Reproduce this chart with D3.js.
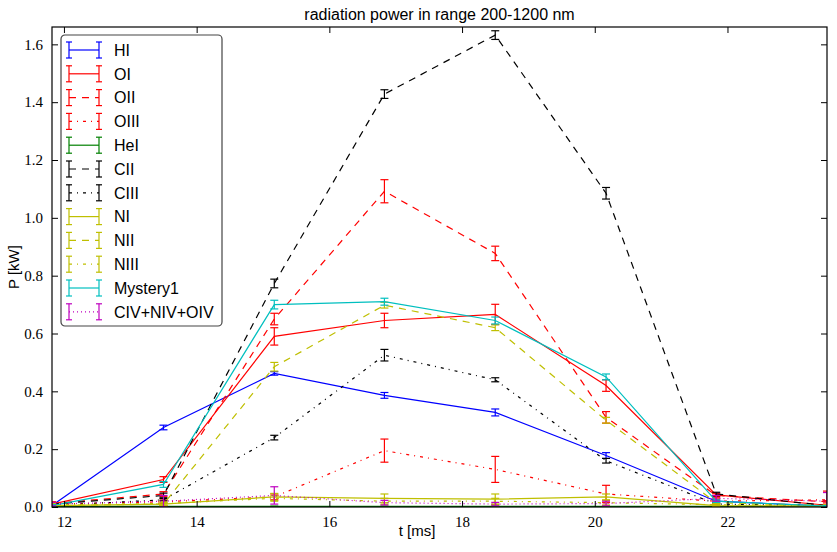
<!DOCTYPE html>
<html>
<head>
<meta charset="utf-8">
<script src="https://cdn.jsdelivr.net/npm/d3@7"></script>
<style>
  body { margin: 0; background: #fff; }
  svg { display: block; }
</style>
</head>
<body>
<div id="chart"></div>
<script>
// time points [ms]
var times = [11.82, 13.5, 15.17, 16.83, 18.5, 20.17, 21.83, 23.5];

// radiated power [kW] per line, with errors
var HI        = [0.005, 0.275, 0.462, 0.386, 0.327, 0.178, 0.020, 0.003];
var HI_err    = [0.003, 0.008, 0.006, 0.010, 0.012, 0.010, 0.004, 0.002];
var OI        = [0.010, 0.095, 0.590, 0.645, 0.666, 0.420, 0.042, 0.006];
var OI_err    = [0.004, 0.010, 0.030, 0.025, 0.035, 0.020, 0.006, 0.002];
var OII       = [0.012, 0.045, 0.650, 1.092, 0.877, 0.310, 0.040, 0.018];
var OII_err   = [0.004, 0.008, 0.020, 0.040, 0.025, 0.020, 0.006, 0.004];
var OIII      = [0.010, 0.018, 0.035, 0.195, 0.130, 0.045, 0.020, 0.025];
var OIII_err  = [0.008, 0.006, 0.010, 0.040, 0.045, 0.030, 0.008, 0.030];
var HeI       = [0.002, 0.002, 0.002, 0.002, 0.002, 0.002, 0.002, 0.002];
var HeI_err   = [0.001, 0.001, 0.001, 0.001, 0.001, 0.001, 0.001, 0.001];
var CII       = [0.010, 0.040, 0.773, 1.428, 1.632, 1.085, 0.045, 0.005];
var CII_err   = [0.003, 0.008, 0.015, 0.015, 0.015, 0.020, 0.006, 0.002];
var CIII      = [0.005, 0.025, 0.240, 0.525, 0.440, 0.160, 0.010, 0.005];
var CIII_err  = [0.002, 0.004, 0.008, 0.020, 0.007, 0.008, 0.003, 0.002];
var NI        = [0.005, 0.010, 0.035, 0.030, 0.027, 0.035, 0.005, 0.003];
var NI_err    = [0.003, 0.005, 0.012, 0.015, 0.018, 0.010, 0.003, 0.002];
var NII       = [0.005, 0.010, 0.485, 0.698, 0.620, 0.300, 0.015, 0.005];
var NII_err   = [0.003, 0.005, 0.015, 0.010, 0.010, 0.010, 0.004, 0.002];
var NIII      = [0.008, 0.012, 0.030, 0.020, 0.020, 0.015, 0.008, 0.005];
var NIII_err  = [0.004, 0.006, 0.010, 0.010, 0.010, 0.008, 0.004, 0.003];
var Mystery1     = [0.005, 0.078, 0.700, 0.710, 0.645, 0.450, 0.020, 0.003];
var Mystery1_err = [0.003, 0.010, 0.015, 0.012, 0.012, 0.010, 0.004, 0.002];
var CNO4      = [0.010, 0.020, 0.040, 0.015, 0.010, 0.012, 0.030, 0.020];
var CNO4_err  = [0.006, 0.020, 0.030, 0.008, 0.006, 0.008, 0.010, 0.030];

var names = ["HI", "OI", "OII", "OIII", "HeI", "CII", "CIII", "NI", "NII", "NIII", "Mystery1", "CIV+NIV+OIV"];
var xTicks = [12, 14, 16, 18, 20, 22];
var yTicks = [0, 0.2, 0.4, 0.6, 0.8, 1.0, 1.2, 1.4, 1.6];

var seriesVals = [HI, OI, OII, OIII, HeI, CII, CIII, NI, NII, NIII, Mystery1, CNO4];
var seriesErrs = [HI_err, OI_err, OII_err, OIII_err, HeI_err, CII_err, CIII_err, NI_err, NII_err, NIII_err, Mystery1_err, CNO4_err];
var colors = ["#0000ff", "#ff0000", "#ff0000", "#ff0000", "#008000", "#000000", "#000000",
              "#bfbf00", "#bfbf00", "#bfbf00", "#00bfbf", "#bf00bf"];
var styles = ["solid", "solid", "dashed", "dashdot", "solid", "dashed", "dashdot",
              "solid", "dashed", "dashdot", "solid", "dotted"];
var dashes = { solid: null, dashed: "7,6", dashdot: "3,5,1,5", dotted: "1,3" };

// Set the dimension of the chart
var W = 837, H = 552;
var margin = { top: 27, right: 10, bottom: 45, left: 52 };
var width = W - margin.left - margin.right;
var height = H - margin.top - margin.bottom;

var svg = d3.select("#chart").append("svg")
    .attr("width", W)
    .attr("height", H);

var g = svg.append("g")
    .attr("transform", "translate(" + margin.left + "," + margin.top + ")");

var x = d3.scaleLinear().domain([11.82, 23.5]).range([0, width]);
var y = d3.scaleLinear().domain([0, 1.66]).range([height, 0]);

// clip for data
g.append("clipPath").attr("id", "clip")
    .append("rect").attr("width", width).attr("height", height);

var plot = g.append("g").attr("clip-path", "url(#clip)");

var line = d3.line()
    .x(function (d) { return x(d.t); })
    .y(function (d) { return y(d.v); });

seriesVals.forEach(function (vals, k) {
    var data = times.map(function (t, i) { return { t: t, v: vals[i], e: seriesErrs[k][i] }; });
    var s = plot.append("g").attr("class", "series");
    s.append("path")
        .datum(data)
        .attr("d", line)
        .attr("fill", "none")
        .attr("stroke", colors[k])
        .attr("stroke-width", 1.2)
        .attr("stroke-dasharray", dashes[styles[k]]);
    // error bars
    var eb = s.selectAll(".eb").data(data).enter().append("g");
    eb.append("line")
        .attr("x1", function (d) { return x(d.t); })
        .attr("x2", function (d) { return x(d.t); })
        .attr("y1", function (d) { return y(d.v - d.e); })
        .attr("y2", function (d) { return y(d.v + d.e); });
    eb.append("line")
        .attr("x1", function (d) { return x(d.t) - 4; })
        .attr("x2", function (d) { return x(d.t) + 4; })
        .attr("y1", function (d) { return y(d.v - d.e); })
        .attr("y2", function (d) { return y(d.v - d.e); });
    eb.append("line")
        .attr("x1", function (d) { return x(d.t) - 4; })
        .attr("x2", function (d) { return x(d.t) + 4; })
        .attr("y1", function (d) { return y(d.v + d.e); })
        .attr("y2", function (d) { return y(d.v + d.e); });
    eb.selectAll("line").attr("stroke", colors[k]).attr("stroke-width", 1.2);
});

// axes, ticks inside on all four sides
var tickFont = "'Liberation Serif', 'DejaVu Serif', serif";
var xAxis = d3.axisBottom(x).tickValues(xTicks).tickSize(-6).tickPadding(9)
    .tickFormat(d3.format("d"));
var yAxis = d3.axisLeft(y).tickValues(yTicks).tickSize(-6).tickPadding(9)
    .tickFormat(d3.format(".1f"));

g.append("g").attr("transform", "translate(0," + height + ")").call(xAxis)
    .call(function (a) { a.select(".domain").remove(); })
    .selectAll("text").style("font-family", tickFont).style("font-size", "15px");
g.append("g").call(yAxis)
    .call(function (a) { a.select(".domain").remove(); })
    .selectAll("text").style("font-family", tickFont).style("font-size", "15px");
g.append("g").call(d3.axisTop(x).tickValues(xTicks).tickSize(-6).tickFormat(""))
    .call(function (a) { a.select(".domain").remove(); });
g.append("g").attr("transform", "translate(" + width + ",0)")
    .call(d3.axisRight(y).tickValues(yTicks).tickSize(-6).tickFormat(""))
    .call(function (a) { a.select(".domain").remove(); });
g.selectAll(".tick line").attr("stroke", "#000");
g.selectAll(".tick text").attr("fill", "#000");

g.append("rect")
    .attr("width", width).attr("height", height)
    .attr("fill", "none").attr("stroke", "#000").attr("stroke-width", 1.2);

// titles
var sans = "'Liberation Sans', Arial, sans-serif";
svg.append("text")
    .attr("x", margin.left + width / 2).attr("y", 20)
    .attr("text-anchor", "middle")
    .style("font-family", sans).style("font-size", "16px")
    .text("radiation power in range 200-1200 nm");
svg.append("text")
    .attr("x", 417).attr("y", 536)
    .attr("text-anchor", "middle")
    .style("font-family", sans).style("font-size", "15px")
    .text("t [ms]");
svg.append("text")
    .attr("transform", "translate(19," + (margin.top + height / 2) + ") rotate(-90)")
    .attr("text-anchor", "middle")
    .style("font-family", sans).style("font-size", "15px")
    .text("P [kW]");

// Handmade legend
var leg = g.append("g").attr("transform", "translate(9,8)");
leg.append("rect")
    .attr("width", 161).attr("height", 291).attr("rx", 4)
    .attr("fill", "#fff").attr("stroke", "#444").attr("stroke-width", 1.2);
names.forEach(function (name, k) {
    var yy = 15 + k * 23.8;
    var it = leg.append("g").attr("transform", "translate(0," + yy + ")");
    it.append("line").attr("x1", 8).attr("x2", 38).attr("y1", 0).attr("y2", 0)
        .attr("stroke-dasharray", dashes[styles[k]]);
    [8, 38].forEach(function (xx) {
        it.append("line").attr("x1", xx).attr("x2", xx).attr("y1", -8).attr("y2", 8);
        it.append("line").attr("x1", xx - 3).attr("x2", xx + 3).attr("y1", -8).attr("y2", -8);
        it.append("line").attr("x1", xx - 3).attr("x2", xx + 3).attr("y1", 8).attr("y2", 8);
    });
    it.selectAll("line").attr("stroke", colors[k]).attr("stroke-width", 1.2);
    it.append("text").attr("x", 53).attr("y", 0).attr("dy", "0.36em")
        .style("font-family", sans).style("font-size", "16px")
        .text(name);
});
</script>
</body>
</html>
